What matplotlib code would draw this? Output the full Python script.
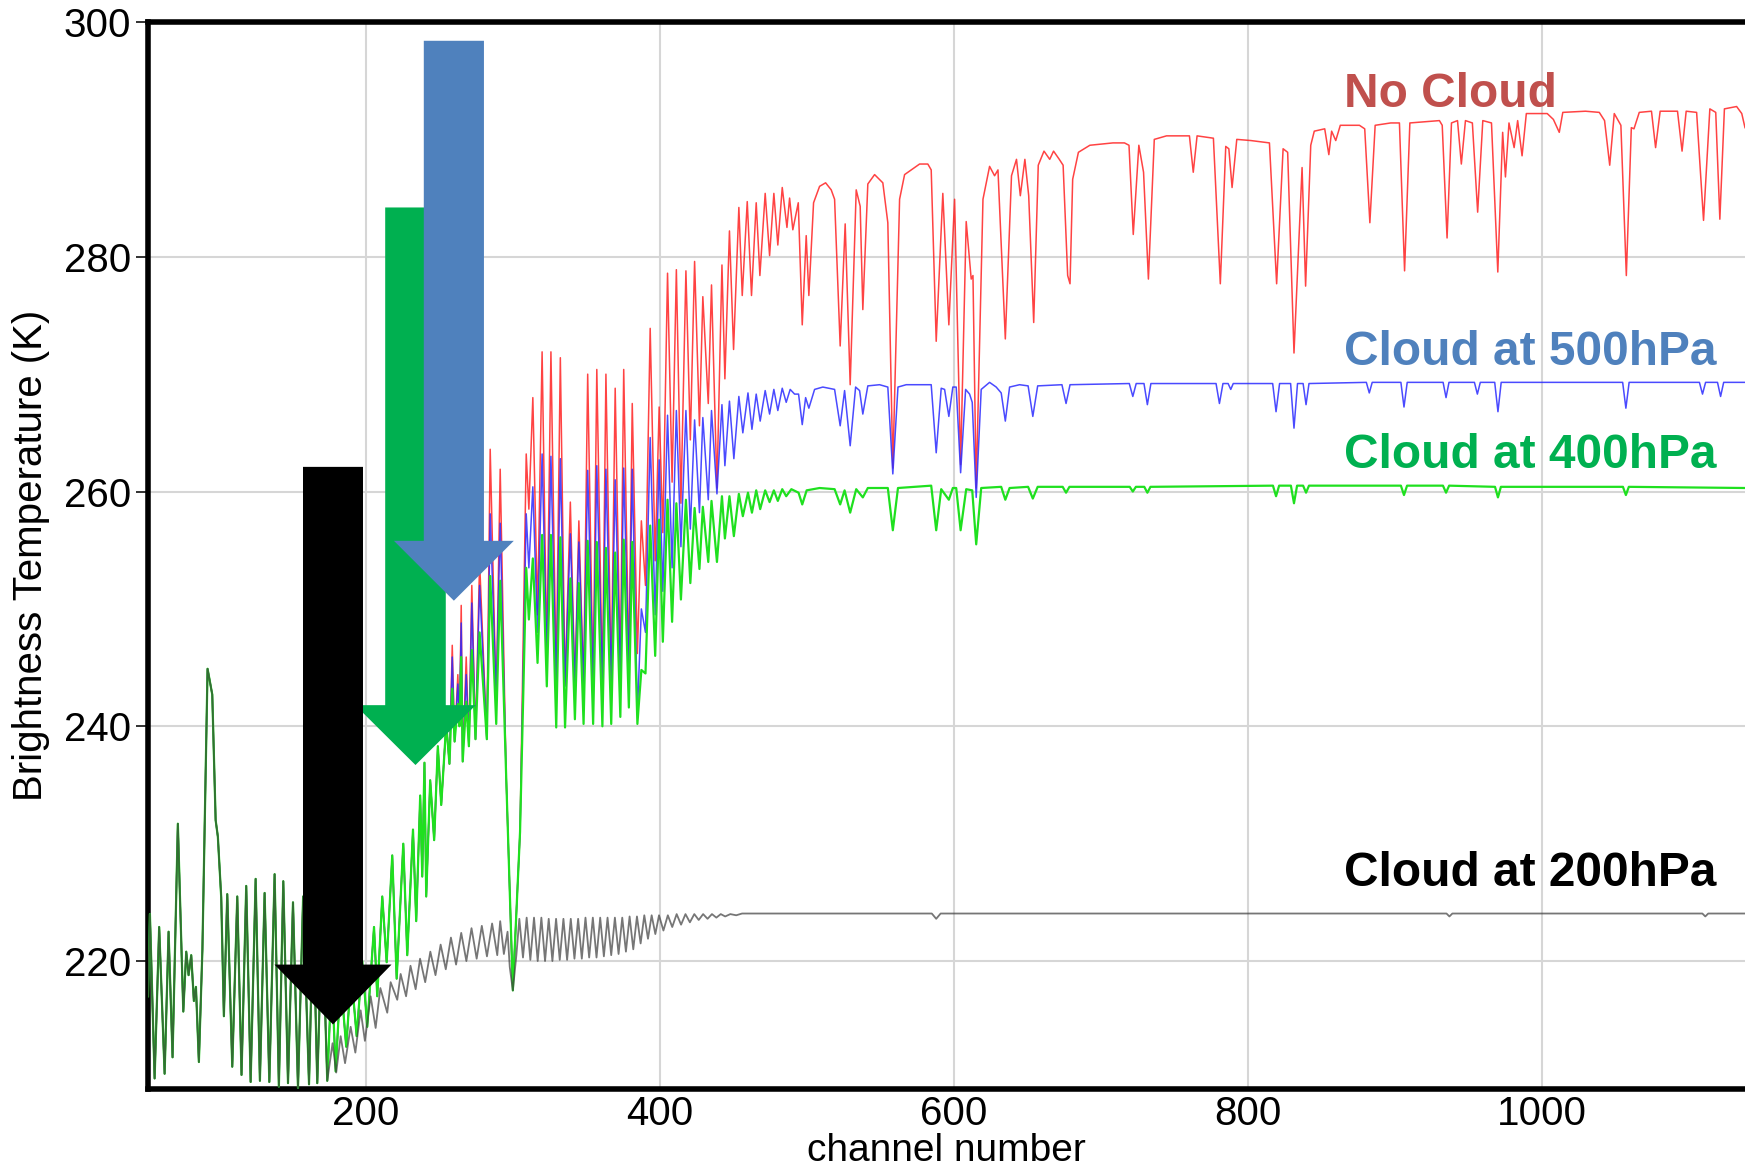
import matplotlib
matplotlib.use("Agg")
import matplotlib.pyplot as plt
from matplotlib.patches import FancyArrow

plt.rcParams['font.family'] = ['Liberation Sans', 'DejaVu Sans']

# ---- brightness temperature spectra (K) vs channel number ----
# segment shared by all four simulations
common_ch = [52.0, 53.3, 56.5, 59.6, 63.3, 66.0, 68.7, 72.3, 76.0, 78.0, 79.6, 81.4, 83.2, 84.6,
             86.6, 89.0, 92.5, 95.7, 98.0, 99.5, 101.8, 103.6, 105.9, 109.3, 112.7, 115.6,
             118.8, 121.8, 125.2, 128.1, 131.3, 134.5, 138.1, 141.0, 144.0, 147.2, 150.6,
             154.0, 157.5, 161.5, 164.3, 167.1, 170.5, 173.9]
common_bt = [217.0, 224.0, 210.0, 222.9, 210.4, 222.5, 211.8, 231.7, 215.7, 220.8, 218.8, 220.5,
             216.6, 217.8, 211.4, 221.0, 244.9, 242.7, 232.0, 230.6, 225.4, 215.3, 225.7, 211.0,
             225.5, 210.3, 226.4, 209.7, 227.0, 209.8, 225.8, 209.7, 227.4, 209.3, 226.8, 209.6,
             225.0, 209.2, 225.5, 209.5, 224.5, 209.6, 224.0, 209.8]

# segment shared by no-cloud, 500 hPa and 400 hPa
mid_ch = [177.0, 179.6, 183.0, 186.8, 190.2, 193.9, 197.7, 201.1, 205.7, 207.9, 211.3, 214.3,
          218.1, 221.1, 225.6, 228.3, 232.2, 234.4, 237.1, 238.5, 240.0, 241.2, 243.9, 246.6,
          249.1, 251.4, 254.8, 257.0]
mid_bt = [219.0, 210.6, 218.5, 212.7, 219.0, 213.6, 220.0, 214.4, 222.9, 217.0, 225.5, 219.9,
          229.0, 218.5, 230.0, 220.5, 231.2, 223.4, 234.1, 227.2, 236.9, 225.5, 235.4, 230.3,
          238.3, 233.3, 240.2, 236.8]

# band where the three upper spectra separate
split_ch = [258.9, 260.5, 262.7, 263.8, 265.0, 266.0, 268.4, 270.2, 272.2, 274.7,
            277.5, 282.4, 284.7, 288.8, 291.5, 295.5, 300.1, 305.0, 309.2, 311.0,
            313.7, 316.9, 320.0, 323.2, 326.0, 329.6, 332.4, 335.6, 339.2, 342.3,
            345.0, 348.2, 351.0, 354.7, 357.2, 361.0, 363.4, 367.0, 369.7, 373.2,
            375.5, 379.0, 381.3, 384.8, 387.5, 390.3, 393.5, 396.9, 399.6, 402.1,
            405.3, 408.4, 411.3, 414.4, 417.8, 420.8, 423.7, 427.0, 429.3, 433.0,
            435.2, 438.9, 442.3, 444.3, 447.4]
red_split = [246.9, 238.7, 244.4, 240.2, 250.3, 237.0, 245.9, 238.3, 252.0, 238.9,
             254.0, 238.9, 263.6, 242.0, 261.9, 236.0, 217.5, 231.0, 263.2, 258.5,
             268.0, 249.5, 271.9, 246.0, 271.9, 244.0, 271.4, 243.5, 259.1, 243.5,
             257.5, 243.5, 270.0, 243.4, 270.4, 243.4, 270.0, 243.8, 268.8, 244.5,
             270.4, 245.0, 267.5, 246.2, 257.5, 252.0, 273.9, 254.1, 267.2, 256.5,
             278.6, 260.8, 278.9, 259.0, 278.8, 264.4, 279.6, 265.6, 276.6, 267.5,
             277.6, 260.3, 279.3, 269.6, 282.2]
blue_split = [245.9, 238.7, 243.6, 240.2, 248.8, 237.0, 244.4, 238.3, 250.5, 238.9,
              252.0, 238.9, 258.1, 242.5, 257.3, 236.0, 217.5, 231.0, 258.1, 253.5,
              260.4, 248.0, 263.2, 245.7, 263.0, 243.4, 262.8, 243.4, 256.4, 243.5,
              255.7, 243.5, 261.8, 243.4, 262.2, 243.4, 261.9, 243.8, 261.0, 244.3,
              262.0, 244.8, 261.9, 241.1, 250.0, 248.0, 264.6, 249.5, 262.7, 251.5,
              266.5, 253.5, 266.9, 255.3, 266.9, 256.8, 266.1, 258.2, 266.3, 259.3,
              266.9, 259.8, 267.4, 262.2, 267.7]
green_split = [243.2, 238.7, 241.9, 240.0, 245.9, 237.0, 242.1, 238.3, 246.5, 238.9,
               248.0, 238.9, 252.8, 240.2, 252.4, 236.0, 217.5, 231.0, 253.5, 249.1,
               254.3, 245.4, 256.3, 243.4, 256.3, 239.9, 256.1, 239.9, 252.6, 240.6,
               252.2, 240.2, 255.8, 240.2, 255.7, 240.0, 255.2, 240.2, 254.8, 240.8,
               255.9, 241.6, 255.7, 240.2, 244.8, 244.5, 257.1, 246.0, 257.6, 247.2,
               259.3, 248.9, 259.0, 250.8, 259.3, 252.2, 258.6, 253.4, 258.7, 254.0,
               259.2, 254.0, 259.6, 256.0, 259.6]

# no cloud: window region
red_tail_ch = [450.2, 453.8, 456.1, 459.5, 462.4, 465.6, 468.1, 471.7, 474.7, 477.6,
               480.3, 483.3, 486.5, 488.3, 490.5, 494.2, 496.9, 499.6, 501.4, 504.6,
               508.7, 512.8, 516.6, 518.9, 522.7, 526.1, 529.5, 533.6, 536.3, 538.1,
               541.5, 546.1, 551.7, 555.1, 558.5, 563.1, 566.5, 571.0, 576.7, 582.3,
               584.6, 588.0, 592.5, 596.6, 600.5, 604.6, 608.4, 611.8, 613.0, 615.2,
               619.8, 624.3, 627.7, 630.0, 635.0, 639.2, 642.6, 645.2, 648.3, 650.9,
               654.3, 657.4, 661.3, 665.2, 667.8, 671.7, 674.3, 677.4, 679.0, 680.8,
               684.7, 692.5, 700.3, 708.2, 716.0, 719.1, 722.0, 725.8, 729.0, 732.3,
               736.3, 744.6, 760.2, 762.8, 765.4, 776.5, 781.2, 784.9, 787.0, 789.2,
               792.4, 802.0, 814.6, 819.5, 823.9, 827.0, 831.3, 836.8, 839.2, 842.7,
               845.1, 852.2, 855.0, 856.9, 859.7, 862.8, 875.8, 879.4, 882.9, 886.5,
               897.1, 903.0, 906.5, 910.1, 930.2, 932.1, 935.4, 938.4, 942.5, 945.1,
               947.9, 952.6, 956.2, 959.7, 965.6, 969.9, 973.2, 975.1, 977.5, 981.0,
               983.4, 986.4, 989.3, 1003.5, 1007.7, 1011.7, 1014.1, 1029.5, 1038.9, 1042.5,
               1046.0, 1049.1, 1053.6, 1057.3, 1060.7, 1062.5, 1066.1, 1074.4, 1077.2, 1080.3,
               1092.1, 1095.2, 1098.0, 1105.1, 1109.8, 1114.1, 1118.1, 1120.9, 1124.0, 1132.3,
               1135.8, 1138.0]
red_tail_bt = [272.1, 284.2, 276.7, 284.7, 276.7, 284.6, 278.4, 285.4, 280.1, 285.4,
               281.0, 285.9, 282.5, 285.0, 282.3, 284.6, 274.2, 281.8, 276.7, 284.6,
               286.0, 286.3, 285.7, 284.9, 272.4, 282.8, 269.1, 285.7, 284.3, 275.5,
               286.2, 287.0, 286.3, 282.9, 262.0, 284.9, 287.0, 287.4, 287.9, 287.9,
               287.4, 272.8, 285.4, 274.2, 284.9, 262.3, 283.0, 278.1, 278.4, 260.3,
               284.9, 287.7, 286.9, 287.4, 273.0, 286.9, 288.3, 285.2, 288.3, 285.2,
               274.4, 287.8, 289.0, 288.3, 289.0, 288.3, 287.8, 278.4, 277.7, 286.6,
               288.9, 289.5, 289.6, 289.7, 289.7, 289.5, 281.9, 289.5, 287.2, 278.1,
               290.0, 290.3, 290.3, 287.2, 290.3, 290.1, 277.7, 289.4, 289.2, 285.9,
               290.0, 289.9, 289.7, 277.7, 289.2, 288.9, 271.8, 287.6, 277.5, 289.5,
               290.7, 290.9, 288.7, 290.7, 289.9, 291.2, 291.2, 290.9, 282.9, 291.2,
               291.4, 291.4, 278.8, 291.4, 291.6, 291.2, 281.6, 291.4, 291.6, 287.9,
               291.6, 291.4, 283.8, 291.6, 291.4, 278.7, 290.6, 286.8, 291.4, 289.3,
               291.6, 288.6, 292.2, 292.2, 291.7, 290.6, 292.3, 292.4, 292.3, 291.6,
               287.8, 292.2, 291.2, 278.4, 291.0, 290.9, 292.3, 292.4, 289.3, 292.4,
               292.4, 289.0, 292.4, 292.3, 283.1, 292.6, 292.3, 283.2, 292.6, 292.8,
               292.2, 291.0]

# cloud at 500 hPa: window region
blue_tail_ch = [450.4, 453.8, 456.5, 460.0, 462.7, 465.6, 468.3, 471.7, 474.7, 477.6,
                480.3, 483.3, 486.0, 488.7, 491.7, 494.4, 496.9, 499.2, 501.4, 505.3,
                510.9, 518.9, 522.7, 525.7, 529.5, 533.2, 535.9, 538.1, 541.5, 549.5,
                555.1, 558.5, 562.0, 567.6, 584.6, 588.0, 591.4, 593.7, 596.6, 599.3,
                601.6, 604.6, 608.0, 610.7, 612.5, 615.2, 618.6, 624.3, 628.8, 632.2,
                635.0, 637.9, 644.7, 650.5, 653.7, 657.0, 673.5, 676.3, 679.0, 719.3,
                721.7, 724.0, 729.3, 731.6, 734.0, 778.3, 780.6, 783.0, 786.5, 788.3,
                790.0, 816.8, 819.1, 821.5, 829.0, 831.3, 833.7, 837.5, 839.5, 841.5,
                880.5, 882.5, 884.5, 904.0, 906.1, 908.3, 932.7, 934.7, 936.7, 954.0,
                956.0, 958.0, 967.8, 970.0, 972.2, 1054.8, 1057.0, 1059.2, 1107.0, 1109.1,
                1111.2, 1119.3, 1121.4, 1123.5, 1138.0]
blue_tail_bt = [262.8, 268.1, 265.0, 268.4, 265.3, 268.3, 266.0, 268.6, 266.6, 268.7,
                266.9, 268.8, 267.6, 268.7, 268.3, 268.3, 265.7, 268.0, 267.1, 268.7,
                268.9, 268.7, 265.6, 268.6, 263.9, 268.9, 268.6, 266.6, 269.0, 269.1,
                268.9, 261.5, 268.9, 269.1, 269.1, 263.3, 268.8, 268.7, 266.4, 268.9,
                268.9, 261.6, 268.7, 268.3, 267.6, 259.5, 268.7, 269.3, 268.9, 268.4,
                266.0, 268.9, 269.1, 269.0, 266.4, 269.0, 269.1, 267.5, 269.1, 269.2,
                268.1, 269.2, 269.2, 267.4, 269.2, 269.2, 267.5, 269.2, 269.2, 268.7,
                269.2, 269.2, 266.8, 269.2, 269.2, 265.4, 269.2, 269.2, 267.4, 269.2,
                269.3, 268.4, 269.3, 269.3, 267.2, 269.3, 269.3, 268.0, 269.3, 269.3,
                268.3, 269.3, 269.3, 266.8, 269.3, 269.3, 267.1, 269.3, 269.3, 268.3,
                269.3, 269.3, 268.1, 269.3, 269.3]

# cloud at 400 hPa: window region
green_tail_ch = [450.4, 453.8, 456.5, 460.0, 462.7, 465.6, 468.3, 471.7, 474.7, 477.6,
                 480.3, 483.3, 486.0, 489.5, 494.4, 496.9, 499.9, 508.7, 518.9, 522.7,
                 525.7, 529.5, 533.6, 538.1, 541.5, 555.1, 558.5, 562.0, 584.6, 588.0,
                 591.4, 596.6, 599.3, 601.6, 604.6, 608.4, 612.5, 615.2, 618.6, 632.2,
                 635.0, 637.9, 650.5, 653.7, 657.0, 674.0, 676.3, 678.6, 719.6, 721.7,
                 723.8, 729.5, 731.6, 733.7, 817.0, 819.1, 821.2, 829.2, 831.3, 833.4,
                 837.5, 839.5, 841.5, 904.0, 906.1, 908.2, 932.6, 934.7, 936.8, 968.0,
                 970.0, 972.0, 1055.0, 1057.0, 1059.0, 1138.0]
green_tail_bt = [256.2, 259.8, 257.9, 259.9, 258.2, 260.1, 258.5, 260.1, 259.1, 260.1,
                 259.2, 260.2, 259.6, 260.2, 259.9, 258.9, 260.1, 260.3, 260.2, 258.9,
                 260.1, 258.2, 260.2, 259.5, 260.3, 260.3, 256.7, 260.3, 260.5, 256.7,
                 260.2, 259.3, 260.3, 260.3, 256.7, 260.2, 260.1, 255.5, 260.3, 260.4,
                 259.3, 260.3, 260.4, 259.4, 260.4, 260.4, 259.9, 260.4, 260.4, 260.0,
                 260.4, 260.4, 259.9, 260.4, 260.5, 259.6, 260.5, 260.5, 259.0, 260.5,
                 260.5, 259.9, 260.5, 260.5, 259.7, 260.5, 260.5, 259.9, 260.5, 260.4,
                 259.5, 260.4, 260.4, 259.7, 260.4, 260.3]

# cloud at 200 hPa: everything after the shared segment
black_ch = [177.5, 180.0, 183.0, 186.0, 189.8, 193.0, 196.6, 199.5, 203.4, 206.8,
            210.0, 214.7, 217.0, 221.5, 223.8, 227.5, 230.5, 234.0, 237.0, 240.5,
            244.0, 247.5, 251.0, 254.5, 258.0, 261.5, 265.0, 268.5, 272.0, 275.5,
            279.0, 282.5, 286.0, 289.5, 291.5, 294.0, 296.5, 298.0, 300.1, 302.5,
            304.5, 307.0, 309.5, 312.0, 314.5, 317.0, 319.5, 322.0, 324.5, 327.0,
            329.5, 332.0, 334.5, 337.0, 339.5, 342.0, 344.5, 347.0, 349.5, 352.0,
            354.5, 357.0, 359.5, 362.0, 364.5, 367.0, 369.5, 372.0, 374.5, 377.0,
            379.5, 382.0, 384.5, 387.0, 389.5, 392.0, 394.5, 397.0, 399.5, 402.5,
            405.5, 408.5, 411.5, 414.5, 417.5, 420.5, 423.5, 426.5, 429.5, 432.5,
            435.5, 438.5, 441.5, 444.5, 448.0, 452.0, 456.0, 585.0, 588.0, 591.0,
            935.0, 937.0, 939.0, 1109.0, 1111.0, 1113.0, 1138.0]
black_bt = [213.0, 210.5, 213.6, 211.3, 214.4, 212.2, 215.8, 213.2, 217.0, 214.3,
            217.7, 215.6, 218.2, 216.7, 218.9, 217.0, 219.6, 217.6, 220.2, 218.2,
            220.8, 218.8, 221.4, 219.3, 222.0, 219.7, 222.4, 220.0, 222.8, 220.2,
            223.0, 220.4, 223.2, 220.5, 223.4, 220.6, 222.5, 219.5, 217.5, 220.5,
            223.6, 220.3, 223.7, 220.1, 223.7, 220.0, 223.7, 220.0, 223.6, 220.0,
            223.6, 220.1, 223.6, 220.1, 223.6, 220.2, 223.6, 220.2, 223.7, 220.3,
            223.7, 220.3, 223.7, 220.4, 223.7, 220.5, 223.7, 220.6, 223.7, 220.8,
            223.8, 221.0, 223.8, 221.5, 223.9, 221.9, 223.9, 222.3, 223.9, 222.6,
            223.9, 222.9, 224.0, 223.1, 224.0, 223.3, 224.0, 223.5, 224.0, 223.6,
            224.0, 223.7, 224.0, 223.8, 224.0, 223.9, 224.05, 224.05, 223.6, 224.05,
            224.05, 223.8, 224.05, 224.05, 223.8, 224.05, 224.05]

x_ticks = [200, 400, 600, 800, 1000]
y_ticks = [220, 240, 260, 280, 300]

series = {
    'red': (common_ch + mid_ch + split_ch + red_tail_ch,
            common_bt + mid_bt + red_split + red_tail_bt),
    'blue': (common_ch + mid_ch + split_ch + blue_tail_ch,
             common_bt + mid_bt + blue_split + blue_tail_bt),
    'green': (common_ch + mid_ch + split_ch + green_tail_ch,
              common_bt + mid_bt + green_split + green_tail_bt),
    'black': (common_ch + black_ch, common_bt + black_bt),
}
for name, (xs, ys) in series.items():
    assert len(xs) == len(ys), name

W, H = 1745, 1171
fig = plt.figure(figsize=(W / 100, H / 100), dpi=100)
ax = fig.add_axes([148 / W, 82 / H, (W - 148) / W, 1067 / H])
ax.set_xlim(52, 1138)
ax.set_ylim(209.1, 300)

styles = {
    'red': dict(color='#ff2222', lw=1.1, alpha=0.85, zorder=2),
    'blue': dict(color='#2a2aff', lw=1.1, alpha=0.85, zorder=3),
    'green': dict(color='#1fe01f', lw=1.6, zorder=4),
    'black': dict(color='#3c3c3c', lw=1.3, alpha=0.7, zorder=4.5),
}
for name, (xs, ys) in series.items():
    ax.plot(xs, ys, solid_joinstyle='round', **styles[name])

# annotation arrows: (centre channel, top K, tip K, shaft width, head width, head length, colour)
arrows = [
    (233.9, 284.2, 236.7, 41.2, 81.9, 5.1, '#00B050'),
    (260.0, 298.4, 250.7, 40.9, 81.5, 5.1, '#4F81BD'),
    (177.8, 262.1, 214.6, 40.8, 79.6, 5.1, '#000000'),
]
for xc, ytop, ytip, w, hw, hl, col in arrows:
    ax.add_patch(FancyArrow(xc, ytop, 0, ytip - ytop, width=w, head_width=hw,
                            head_length=hl, length_includes_head=True,
                            color=col, lw=0, zorder=6))

labels = [
    ('No Cloud', 292.76, '#C0504D'),
    ('Cloud at 500hPa', 270.8, '#4F81BD'),
    ('Cloud at 400hPa', 262.0, '#00B050'),
    ('Cloud at 200hPa', 226.4, '#000000'),
]
for txt, yb, col in labels:
    ax.text(865.5, yb, txt, color=col, fontsize=34.5, fontweight='bold',
            ha='left', va='baseline', zorder=7)

ax.set_xticks(x_ticks)
ax.set_yticks(y_ticks)
ax.grid(True, color='#d6d6d6', lw=1.5, zorder=0)
ax.set_axisbelow(True)
ax.tick_params(axis='x', length=0, pad=4.5, labelsize=29)
ax.tick_params(axis='y', direction='out', length=8.5, width=1.3, pad=3.5,
               labelsize=29, color='#222222')
for side in ('left', 'bottom', 'top'):
    ax.spines[side].set_linewidth(4)
    ax.spines[side].set_color('black')
ax.spines['right'].set_visible(False)

ax.set_xlabel('channel number', fontsize=28, labelpad=0)
ax.set_ylabel('Brightness Temperature (K)', fontsize=29, labelpad=10)

fig.savefig('out.png', dpi=100, facecolor='white')
